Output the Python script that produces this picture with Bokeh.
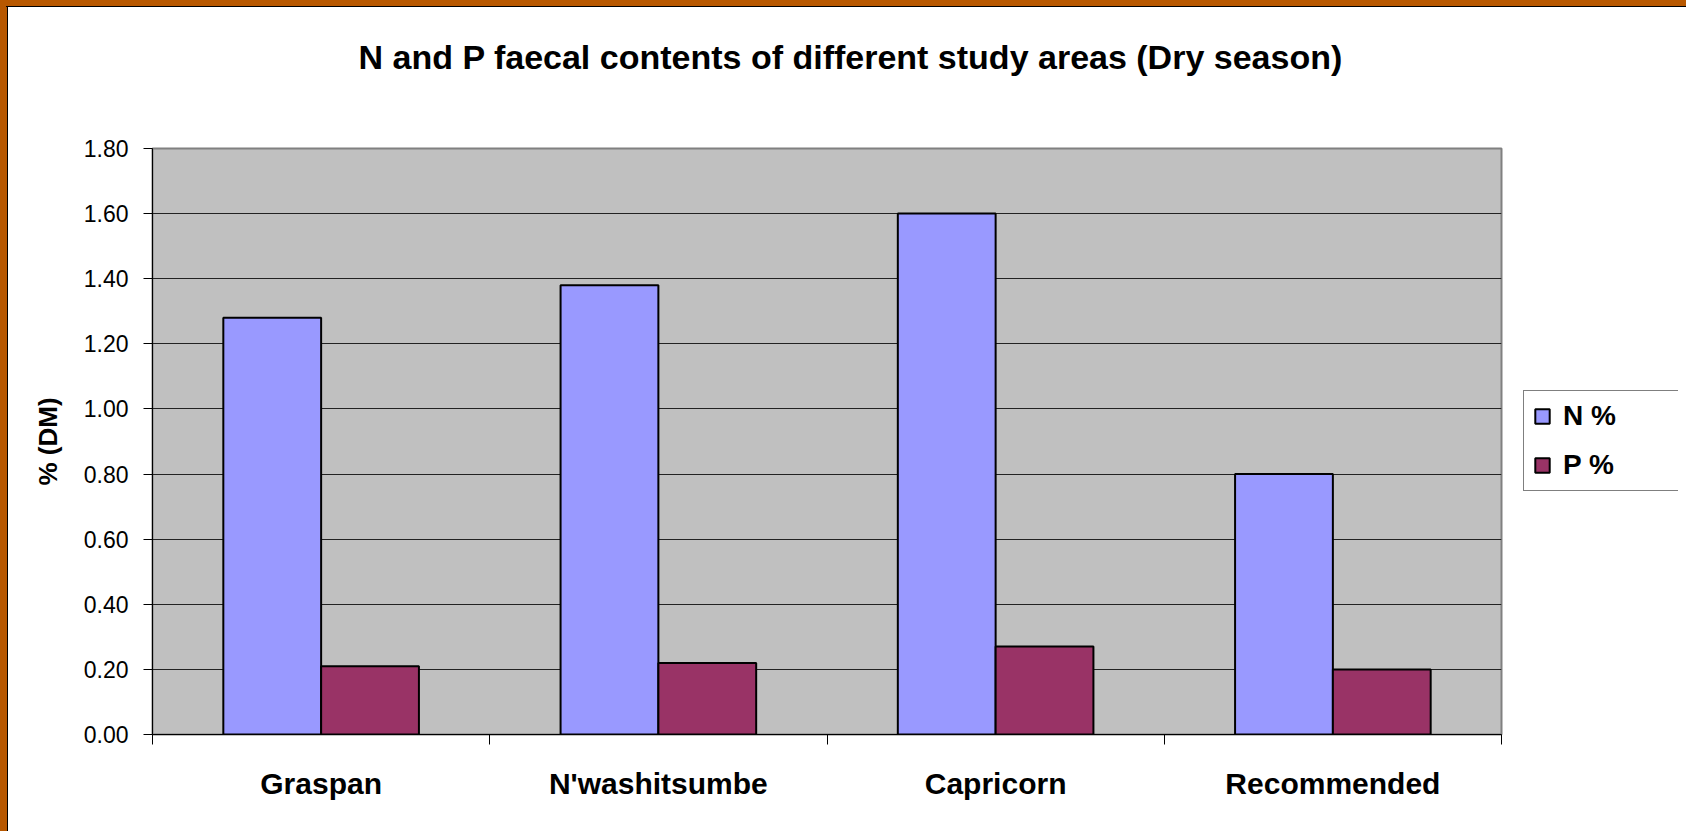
from bokeh.plotting import figure
from bokeh.layouts import row
from bokeh.models import (FixedTicker, Legend, LegendItem, Range1d, ColumnDataSource,
                          PrintfTickFormatter, Title)
from bokeh.embed import file_html
from bokeh.resources import INLINE

# ---- data ----
categories = ["Graspan", "N'washitsumbe", "Capricorn", "Recommended"]
n_pct = [1.28, 1.38, 1.60, 0.80]
p_pct = [0.21, 0.22, 0.27, 0.20]
series_names = ["N %", "P %"]
series_colors = ["#9999FF", "#993366"]
y_ticks = [0.0, 0.2, 0.4, 0.6, 0.8, 1.0, 1.2, 1.4, 1.6, 1.8]
title_text = "N and P faecal contents of different study areas (Dry season)"
y_label = "% (DM)"

FONT = "Liberation Sans"
W_MAIN, W_LEG, H = 1500, 170, 815

idx = list(range(len(categories)))
centers = [i + 0.5 for i in idx]
src_n = ColumnDataSource(dict(x=[c - 0.145 for c in centers], top=n_pct))
src_p = ColumnDataSource(dict(x=[c + 0.145 for c in centers], top=p_pct))

p = figure(width=W_MAIN, height=H, output_backend="svg", toolbar_location=None,
           x_range=Range1d(0, len(categories)), y_range=Range1d(y_ticks[0], y_ticks[-1]),
           min_border_left=144, min_border_right=7, min_border_top=140, min_border_bottom=89)

p.background_fill_color = "#C0C0C0"
p.border_fill_color = "white"
p.outline_line_color = "#808080"
p.outline_line_width = 2

p.vbar(x="x", top="top", width=0.29, source=src_n, fill_color=series_colors[0],
       line_color="black", line_width=2)
p.vbar(x="x", top="top", width=0.29, source=src_p, fill_color=series_colors[1],
       line_color="black", line_width=2)

# title: a thin spacer next to the frame, then the real title above it
spacer = Title(text=" ", text_font_size="1px", standoff=68, align="left")
p.add_layout(spacer, "above")
title = Title(text=title_text, text_font=FONT, text_font_size="34px", text_font_style="bold",
              text_color="black", align="left", offset=206, vertical_align="top", standoff=0)
p.add_layout(title, "above")

# x axis
xa = p.xaxis[0]
xa.ticker = FixedTicker(ticks=centers, minor_ticks=idx + [len(categories)])
xa.major_label_overrides = {c: name for c, name in zip(centers, categories)}
xa.major_tick_out = 0
xa.major_tick_in = 0
xa.minor_tick_out = 10
xa.minor_tick_in = 0
xa.minor_tick_line_color = "black"
xa.axis_line_color = "black"
xa.major_label_text_font = FONT
xa.major_label_text_font_size = "30px"
xa.major_label_text_font_style = "bold"
xa.major_label_text_color = "black"
xa.major_label_standoff = 22

# y axis
ya = p.yaxis[0]
ya.ticker = FixedTicker(ticks=y_ticks, minor_ticks=[])
ya.formatter = PrintfTickFormatter(format="%.2f")
ya.major_tick_out = 9
ya.major_tick_in = 0
ya.major_tick_line_color = "black"
ya.axis_line_color = "black"
ya.major_label_text_font = FONT
ya.major_label_text_font_size = "23px"
ya.major_label_text_color = "black"
ya.major_label_standoff = 15
ya.axis_label = y_label
ya.axis_label_text_font = FONT
ya.axis_label_text_font_size = "26px"
ya.axis_label_text_font_style = "bold"
ya.axis_label_text_color = "black"
ya.axis_label_standoff = 18

p.xgrid.visible = False
p.ygrid.ticker = FixedTicker(ticks=y_ticks[1:-1], minor_ticks=[])
p.ygrid.grid_line_color = "#222222"
p.ygrid.grid_line_width = 1

# legend panel (separate small figure to the right)
q = figure(width=W_LEG, height=H, output_backend="svg", toolbar_location=None,
           x_range=Range1d(0, 1), y_range=Range1d(0, 1),
           min_border_left=0, min_border_right=0, min_border_top=0, min_border_bottom=0)
q.axis.visible = False
q.grid.visible = False
q.outline_line_color = None
q.background_fill_color = "white"
q.border_fill_color = "white"
# proxy glyphs for the legend keys (NaN data: nothing drawn in the frame)
nan = float("nan")
leg_r = [q.vbar(x=[nan], top=[nan], width=0.1, fill_color=c, line_color="black", line_width=2)
         for c in series_colors]

legend = Legend(items=[LegendItem(label=n, renderers=[r]) for n, r in zip(series_names, leg_r)],
                location=(15, 243))
legend.border_line_color = "black"
legend.border_line_width = 1
legend.background_fill_color = "white"
legend.background_fill_alpha = 1
legend.label_text_font = FONT
legend.label_text_font_size = "28px"
legend.label_text_font_style = "bold"
legend.label_text_color = "black"
legend.glyph_width = 18
legend.glyph_height = 18
legend.label_standoff = 12
legend.label_width = 106
legend.label_height = 30
legend.spacing = 17
legend.padding = 9
legend.margin = 0
q.add_layout(legend, "center")

layout = row(p, q, spacing=0)

html = file_html(layout, INLINE)
style = ("<style>html,body{height:auto !important;}"
         "body{margin:8px !important;background:"
         "linear-gradient(#000,#000) 6px 6px/100% 1px no-repeat,"
         "linear-gradient(#000,#000) 7px 6px/1px 100% no-repeat,"
         "linear-gradient(#b85800,#b85800) 0 0/100% 6px no-repeat,"
         "linear-gradient(#b85800,#b85800) 0 0/7px 100% no-repeat,"
         "#ffffff;}</style>")
html = html.replace("</head>", style + "</head>", 1)
open("out.html", "w").write(html)
